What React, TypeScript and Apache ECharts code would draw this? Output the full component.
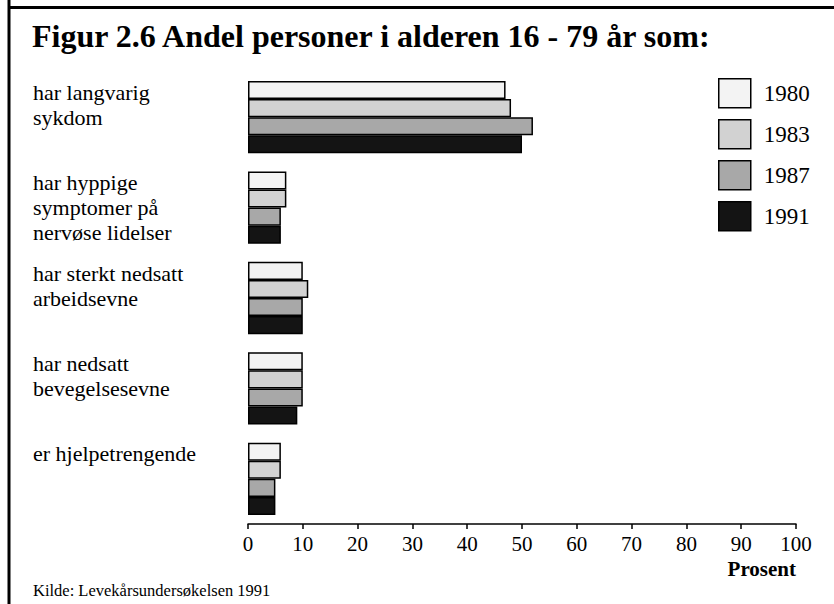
import React, { useEffect, useRef } from "react";
import * as echarts from "echarts";

const categories = [
  "har langvarig\nsykdom",
  "har hyppige\nsymptomer på\nnervøse lidelser",
  "har sterkt nedsatt\narbeidsevne",
  "har nedsatt\nbevegelsesevne",
  "er hjelpetrengende",
];
const years = ["1980", "1983", "1987", "1991"];
const values1980 = [47, 7, 10, 10, 6];
const values1983 = [48, 7, 11, 10, 6];
const values1987 = [52, 6, 10, 10, 5];
const values1991 = [50, 6, 10, 9, 5];
const seriesValues = [values1980, values1983, values1987, values1991];
const xTicks = [0, 10, 20, 30, 40, 50, 60, 70, 80, 90, 100];
const title = "Figur 2.6 Andel personer i alderen 16 - 79 år som:";
const source = "Kilde: Levekårsundersøkelsen 1991";
const unitLabel = "Prosent";

const colors = ["#f3f3f3", "#d2d2d2", "#a8a8a8", "#141414"];
const SERIF = "'Liberation Serif', 'DejaVu Serif', serif";

export default function App() {
  const ref = useRef<HTMLDivElement>(null);
  useEffect(() => {
    if (!ref.current) return;
    const chart = echarts.init(ref.current, null, { renderer: "svg" });
    chart.setOption({
      animation: false,
      backgroundColor: "#ffffff",
      textStyle: { fontFamily: SERIF, color: "#000" },
      grid: { left: 248, right: 38, top: 72, bottom: 80, containLabel: false },
      legend: {
        orient: "vertical",
        left: 718,
        top: 78,
        padding: 0,
        itemWidth: 32,
        itemHeight: 29,
        itemGap: 10.5,
        icon: "rect",
        data: years,
        textStyle: { fontFamily: SERIF, fontSize: 23, color: "#000", padding: [0, 0, 0, 8] },
        itemStyle: { borderColor: "#000", borderWidth: 1.5 },
        selectedMode: false,
      },
      xAxis: {
        type: "value",
        min: 0,
        max: 100,
        interval: 10,
        splitLine: { show: false },
        axisLine: { show: true, lineStyle: { color: "#000", width: 1.5 } },
        axisTick: { show: true, length: 5, inside: false, lineStyle: { color: "#000", width: 1.5 } },
        axisLabel: {
          fontFamily: SERIF,
          fontSize: 21,
          color: "#000",
          margin: 9,
          formatter: (v: number) => (xTicks.includes(v) ? String(v) : ""),
        },
      },
      yAxis: {
        type: "category",
        inverse: true,
        data: categories,
        axisLine: { show: false },
        axisTick: { show: false },
        axisLabel: {
          align: "left",
          margin: 215,
          fontFamily: SERIF,
          fontSize: 22,
          lineHeight: 25,
          color: "#000",
          formatter: (v: string) => {
            const n = v.split("\n").length;
            return v + "\n ".repeat(3 - n);
          },
        },
      },
      series: years.map((y, i) => ({
        name: y,
        type: "bar",
        data: seriesValues[i],
        barGap: "0%",
        barCategoryGap: "20%",
        itemStyle: { color: colors[i], borderColor: "#000", borderWidth: 1.5 },
      })),
      graphic: [
        { type: "line", shape: { x1: 9, y1: 0, x2: 9, y2: 604 }, style: { stroke: "#000", lineWidth: 3 } },
        { type: "line", shape: { x1: 8, y1: 7.5, x2: 834, y2: 7.5 }, style: { stroke: "#000", lineWidth: 3 } },
        {
          type: "text",
          left: 32,
          top: 20,
          style: { text: title, fontFamily: SERIF, fontSize: 32, fontWeight: "bold", fill: "#000" },
        },
        {
          type: "text",
          right: 38,
          top: 558,
          style: { text: unitLabel, fontFamily: SERIF, fontSize: 21, fontWeight: "bold", fill: "#000" },
        },
        {
          type: "text",
          left: 33,
          top: 582,
          style: { text: source, fontFamily: SERIF, fontSize: 16.5, fill: "#000" },
        },
      ],
    });
    return () => chart.dispose();
  }, []);
  return (
    <div
      ref={ref}
      style={{ position: "fixed", left: 0, top: 0, width: 834, height: 604, background: "#fff" }}
    />
  );
}
